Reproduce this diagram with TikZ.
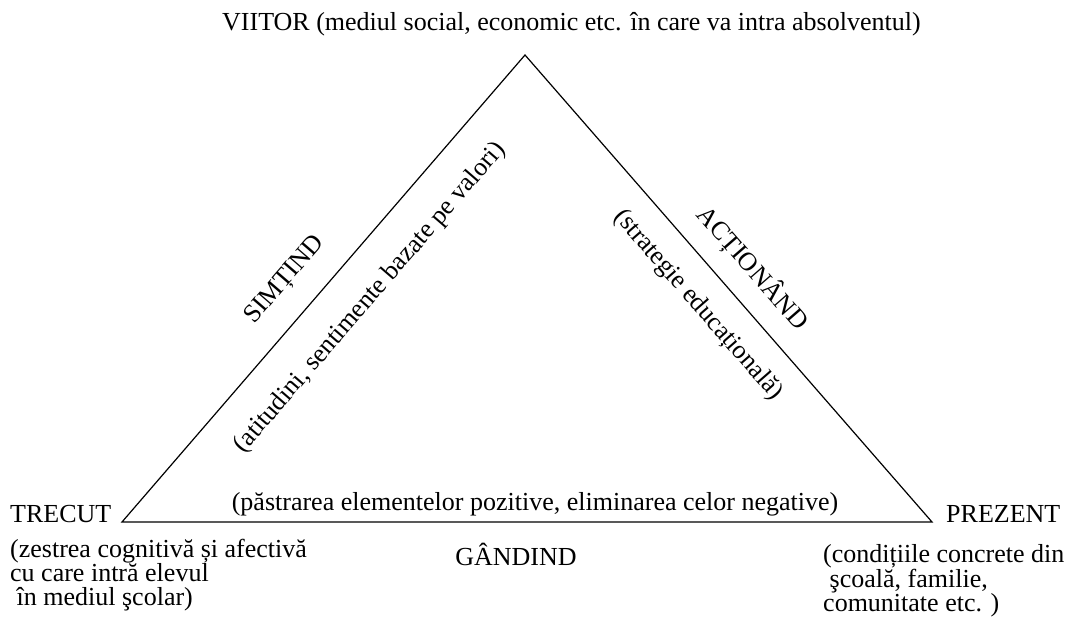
\documentclass[tikz,border=0pt]{standalone}
\usepackage{fontspec}
\setmainfont{Liberation Serif}
\usetikzlibrary{positioning}

\begin{document}
\begin{tikzpicture}[x=1pt,y=1pt,
    side/.style={draw=black,line width=1.2pt},
    txt/.style={font=\fontsize{26}{24}\selectfont,inner sep=0pt},
    note/.style={txt,align=left,anchor=north west}
  ]
    \useasboundingbox (0,0) rectangle (1068,627);
    % corners of the triangle
    \coordinate (viitor) at (525,572);
    \coordinate (trecut) at (122,105);
    \coordinate (prezent) at (932,105);
    \draw[side] (trecut) -- (viitor) -- (prezent) -- cycle;
    % corner labels
    \node[txt,anchor=base west] (lviitor) at (222,596) {VIITOR (mediul social, economic etc. în care va intra absolventul)};
    \node[txt,anchor=base west] (ltrecut) at (10,105) {TRECUT};
    \node[txt,anchor=base west] (lprezent) at (946,105) {PREZENT};
    \node[note] (ntrecut) at (10,88) {(zestrea cognitivă și afectivă\\cu care intră elevul\\\ în mediul şcolar)};
    \node[note,font=\fontsize{26}{23}\selectfont] (nprezent) at (823,83) {(condițiile concrete din\\\ şcoală, familie,\\comunitate etc. )};
    % side labels
    \node[txt,anchor=base] (lgand) at (516,62) {GÂNDIND};
    \node[txt,anchor=base] (ngand) at (535,117) {(păstrarea elementelor pozitive, eliminarea celor negative)};
    \node[txt,rotate=49.2] (lsimt) at (285,347) {SIMȚIND};
    \node[txt,rotate=49.2] (nsimt) at (370,329) {(atitudini, sentimente bazate pe valori)};
    \node[txt,rotate=-48.9] (lact) at (753,359) {ACȚIONÂND};
    \node[txt,rotate=-48.9] (nact) at (698,322) {(strategie educațională)};
  \end{tikzpicture}
\end{document}
